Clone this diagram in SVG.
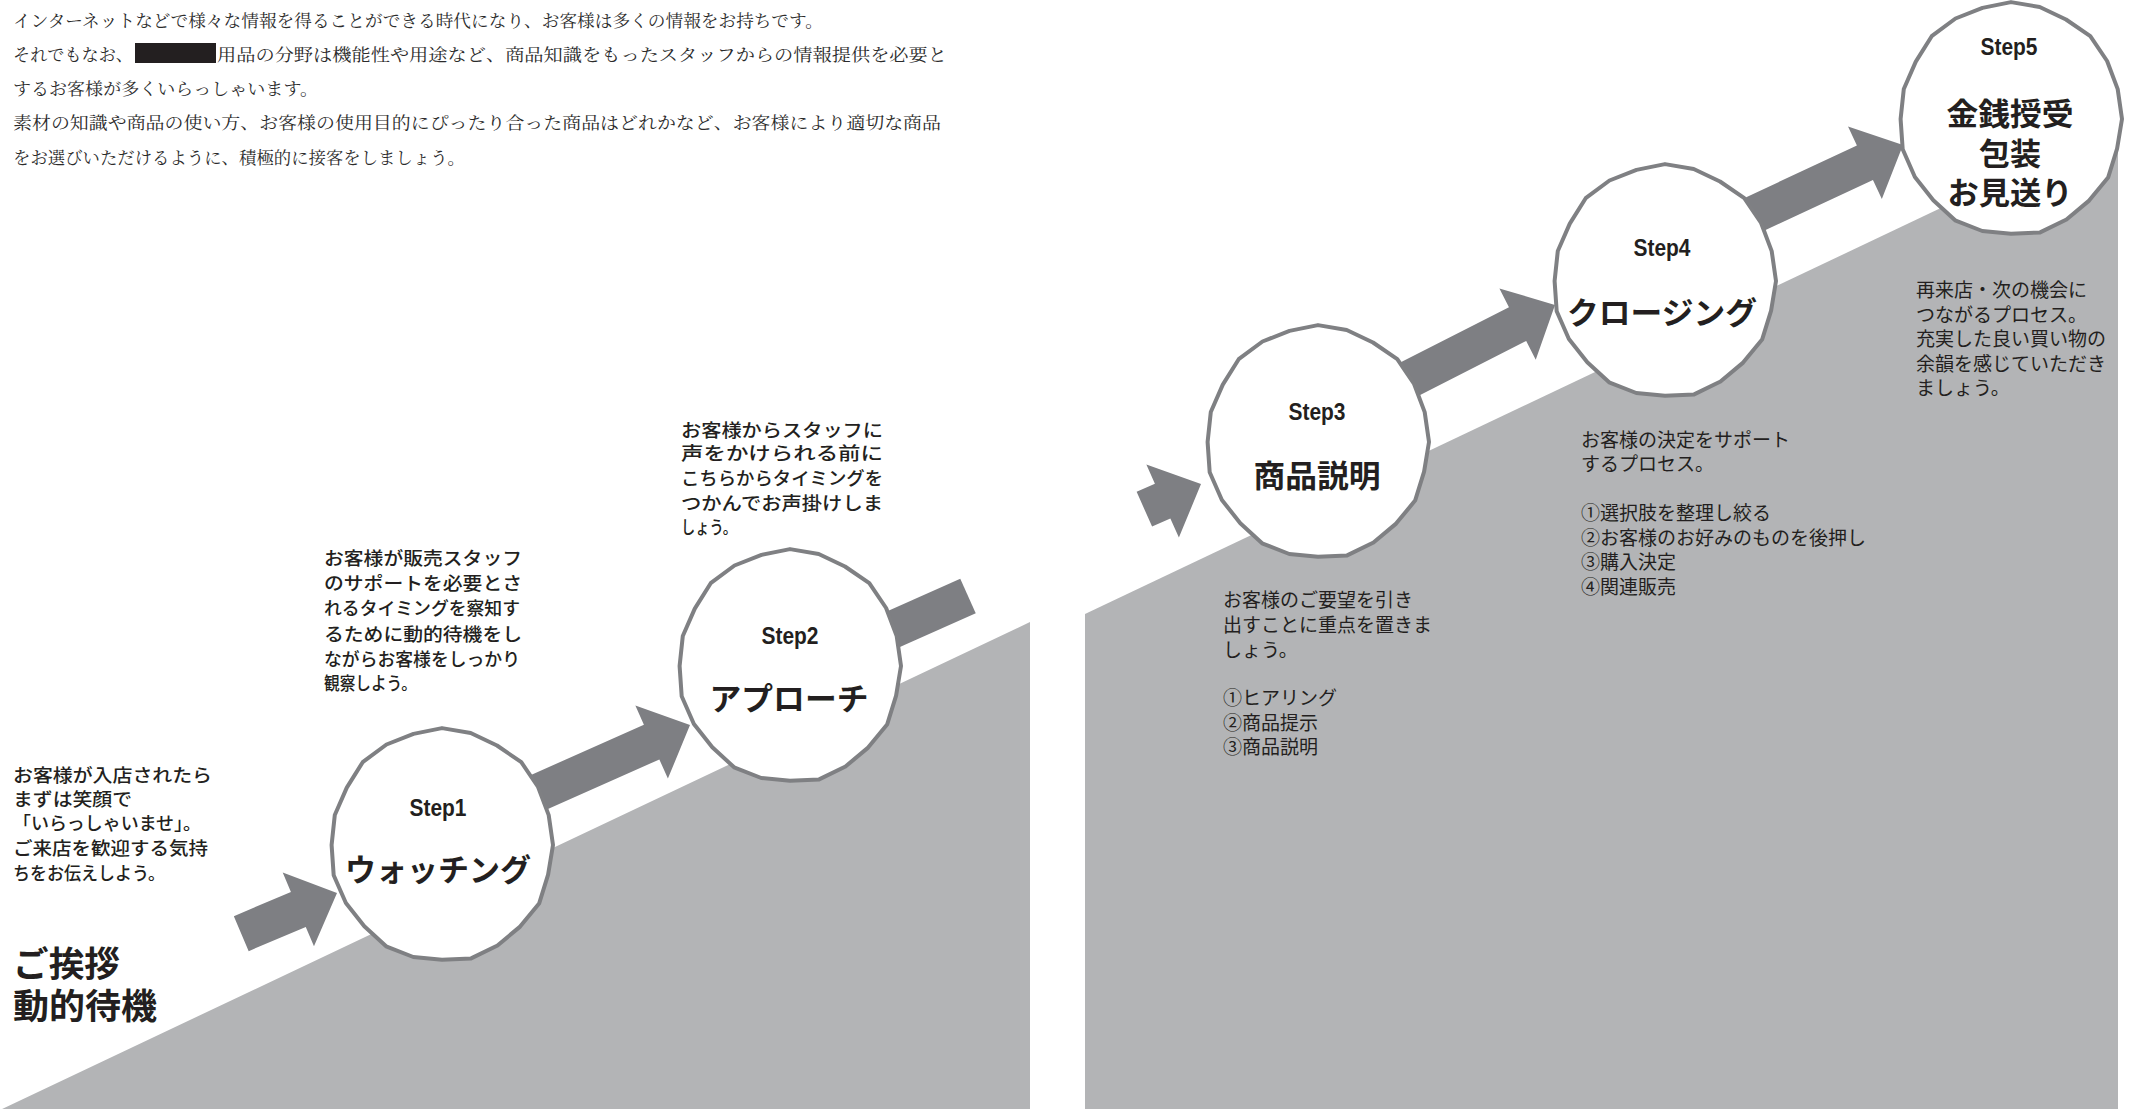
<svg xmlns="http://www.w3.org/2000/svg" width="2134" height="1109" viewBox="0 0 2134 1109">
<style>
.hd{font-family:"Noto Serif CJK JP","Noto Sans CJK JP","Noto Sans",serif;font-size:17.5px;font-weight:400;fill:#2b2b2b}
.d1{font-family:"Noto Sans CJK JP","Noto Sans",sans-serif;font-size:18px;font-weight:500;fill:#231f20}
.d2{font-family:"Noto Sans CJK JP","Noto Sans",sans-serif;font-size:19px;fill:#231f20}
.st{font-family:"Liberation Sans","Arial",sans-serif;font-size:24px;font-weight:700;fill:#231f20;text-anchor:middle}
.lb{font-family:"Liberation Sans","Noto Sans CJK JP",sans-serif;font-size:31px;font-weight:700;fill:#231f20;text-anchor:middle}
.big{font-family:"Liberation Sans","Noto Sans CJK JP",sans-serif;font-size:35px;font-weight:700;fill:#231f20}
.gray{fill:#b3b4b6}
.arr{fill:#7e7f83}
.circ{fill:#ffffff;stroke:#7f8083;stroke-width:4;stroke-linejoin:round}
</style>
<defs>
<polygon id="blob" points="111,0 106.1,29.7 97.1,58.6 78.1,81.6 55.5,100.5 29.1,113.4 0,114.8 -28.7,112 -55.9,101.3 -77.7,81.2 -96.1,58 -108.3,30.3 -110.4,0 -107.2,-30 -95.2,-57.4 -79.3,-82.8 -55.5,-100.5 -28.5,-111.1 0,-116.9 28.7,-112 55,-99.5 79.3,-82.8 96.1,-58 106.7,-29.9"/>
</defs>

<g id="header">
<text class="hd" x="13" y="27" textLength="810" lengthAdjust="spacingAndGlyphs">インターネットなどで様々な情報を得ることができる時代になり、お客様は多くの情報をお持ちです。</text>
<text class="hd" x="13" y="61" textLength="120" lengthAdjust="spacingAndGlyphs">それでもなお、</text>
<rect x="135" y="43" width="81" height="20" fill="#231f20"/>
<text class="hd" x="217" y="61" textLength="730" lengthAdjust="spacingAndGlyphs">用品の分野は機能性や用途など、商品知識をもったスタッフからの情報提供を必要と</text>
<text class="hd" x="13" y="95" textLength="305" lengthAdjust="spacingAndGlyphs">するお客様が多くいらっしゃいます。</text>
<text class="hd" x="13" y="129" textLength="928" lengthAdjust="spacingAndGlyphs">素材の知識や商品の使い方、お客様の使用目的にぴったり合った商品はどれかなど、お客様により適切な商品</text>
<text class="hd" x="13" y="164" textLength="452" lengthAdjust="spacingAndGlyphs">をお選びいただけるように、積極的に接客をしましょう。</text>
</g>

<g id="ground">
<polygon class="gray" points="0,1110 1030,622 1030,1109 0,1109"/>
<polygon class="gray" points="1085,614 2118,124 2118,1109 1085,1109"/>
</g>

<g id="connectors">
<polygon class="arr" transform="translate(337,893) rotate(-23)" points="-104,-19 -42,-19 -42,-40 0,0 -42,40 -42,19 -104,19"/>
<polygon class="arr" transform="translate(690,725) rotate(-24)" points="-220,-19 -42,-19 -42,-40 0,0 -42,40 -42,19 -220,19"/>
<polygon class="arr" transform="translate(968,596) rotate(-24)" points="-150,-19 0,-19 0,19 -150,19"/>
<polygon class="arr" transform="translate(1201,484) rotate(-24)" points="-62,-19 -42,-19 -42,-40 0,0 -42,40 -42,19 -62,19"/>
<polygon class="arr" transform="translate(1555,305) rotate(-27)" points="-260,-19 -42,-19 -42,-40 0,0 -42,40 -42,19 -260,19"/>
<polygon class="arr" transform="translate(1903,145) rotate(-25)" points="-260,-19 -42,-19 -42,-40 0,0 -42,40 -42,19 -260,19"/>
</g>

<g id="intro">
<text class="d1" x="13" y="782" textLength="199" lengthAdjust="spacingAndGlyphs">お客様が入店されたら</text>
<text class="d1" x="13" y="806" textLength="119" lengthAdjust="spacingAndGlyphs">まずは笑顔で</text>
<text class="d1" x="13" y="830" textLength="188" lengthAdjust="spacingAndGlyphs">「いらっしゃいませ」。</text>
<text class="d1" x="13" y="855" textLength="195" lengthAdjust="spacingAndGlyphs">ご来店を歓迎する気持</text>
<text class="d1" x="13" y="880" textLength="152" lengthAdjust="spacingAndGlyphs">ちをお伝えしよう。</text>
<text class="big" x="13" y="977" textLength="107" lengthAdjust="spacingAndGlyphs">ご挨拶</text>
<text class="big" x="13" y="1019" textLength="144" lengthAdjust="spacingAndGlyphs">動的待機</text>
</g>

<g id="step1">
<use href="#blob" class="circ" transform="translate(442,845)"/>
<text class="st" x="438" y="816" textLength="57" lengthAdjust="spacingAndGlyphs">Step1</text>
<text class="lb" x="438" y="881" textLength="186" lengthAdjust="spacingAndGlyphs">ウォッチング</text>
<text class="d1" x="324" y="565" textLength="198" lengthAdjust="spacingAndGlyphs">お客様が販売スタッフ</text>
<text class="d1" x="324" y="590" textLength="198" lengthAdjust="spacingAndGlyphs">のサポートを必要とさ</text>
<text class="d1" x="324" y="615" textLength="196" lengthAdjust="spacingAndGlyphs">れるタイミングを察知す</text>
<text class="d1" x="324" y="641" textLength="198" lengthAdjust="spacingAndGlyphs">るために動的待機をし</text>
<text class="d1" x="324" y="666" textLength="196" lengthAdjust="spacingAndGlyphs">ながらお客様をしっかり</text>
<text class="d1" x="324" y="690" textLength="93" lengthAdjust="spacingAndGlyphs">観察しよう。</text>
</g>

<g id="step2">
<use href="#blob" class="circ" transform="translate(790,666)"/>
<text class="st" x="790" y="644" textLength="57" lengthAdjust="spacingAndGlyphs">Step2</text>
<text class="lb" x="789" y="710" textLength="159" lengthAdjust="spacingAndGlyphs">アプローチ</text>
<text class="d1" x="681" y="437" textLength="202" lengthAdjust="spacingAndGlyphs">お客様からスタッフに</text>
<text class="d1" x="681" y="460" textLength="202" lengthAdjust="spacingAndGlyphs">声をかけられる前に</text>
<text class="d1" x="681" y="485" textLength="202" lengthAdjust="spacingAndGlyphs">こちらからタイミングを</text>
<text class="d1" x="681" y="510" textLength="202" lengthAdjust="spacingAndGlyphs">つかんでお声掛けしま</text>
<text class="d1" x="681" y="534" textLength="56" lengthAdjust="spacingAndGlyphs">しょう。</text>
</g>

<g id="step3">
<use href="#blob" class="circ" transform="translate(1318,442)"/>
<text class="st" x="1317" y="420" textLength="57" lengthAdjust="spacingAndGlyphs">Step3</text>
<text class="lb" x="1317" y="487" textLength="127" lengthAdjust="spacingAndGlyphs">商品説明</text>
<text class="d2" x="1223" y="607">お客様のご要望を引き</text>
<text class="d2" x="1223" y="632">出すことに重点を置きま</text>
<text class="d2" x="1223" y="657">しょう。</text>
<text class="d2" x="1223" y="705">①ヒアリング</text>
<text class="d2" x="1223" y="730">②商品提示</text>
<text class="d2" x="1223" y="754">③商品説明</text>
</g>

<g id="step4">
<use href="#blob" class="circ" transform="translate(1665,281)"/>
<text class="st" x="1662" y="256" textLength="57" lengthAdjust="spacingAndGlyphs">Step4</text>
<text class="lb" x="1662" y="324" textLength="190" lengthAdjust="spacingAndGlyphs">クロージング</text>
<text class="d2" x="1581" y="447">お客様の決定をサポート</text>
<text class="d2" x="1581" y="471">するプロセス。</text>
<text class="d2" x="1581" y="520">①選択肢を整理し絞る</text>
<text class="d2" x="1581" y="545">②お客様のお好みのものを後押し</text>
<text class="d2" x="1581" y="569">③購入決定</text>
<text class="d2" x="1581" y="594">④関連販売</text>
</g>

<g id="step5">
<use href="#blob" class="circ" transform="translate(2011,119)"/>
<text class="st" x="2009" y="55" textLength="57" lengthAdjust="spacingAndGlyphs">Step5</text>
<text class="lb" x="2010" y="125" textLength="127" lengthAdjust="spacingAndGlyphs">金銭授受</text>
<text class="lb" x="2010" y="165">包装</text>
<text class="lb" x="2010" y="204" textLength="125" lengthAdjust="spacingAndGlyphs">お見送り</text>
<text class="d2" x="1916" y="297">再来店・次の機会に</text>
<text class="d2" x="1916" y="322">つながるプロセス。</text>
<text class="d2" x="1916" y="346">充実した良い買い物の</text>
<text class="d2" x="1916" y="371">余韻を感じていただき</text>
<text class="d2" x="1916" y="395">ましょう。</text>
</g>
</svg>
